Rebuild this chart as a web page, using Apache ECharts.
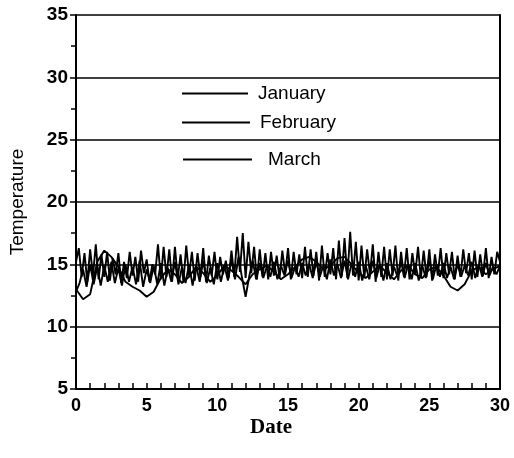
<!DOCTYPE html>
<html><head><meta charset="utf-8">
<script src="https://cdn.jsdelivr.net/npm/echarts@6/dist/echarts.min.js"></script>
<style>html,body{margin:0;padding:0;background:#fff}#c{width:514px;height:458px}</style>
</head><body><div id="c"></div>
<script>
const xTicks = [0,5,10,15,20,25,30];
const yTicks = [5,10,15,20,25,30,35];
const seriesNames = ['January','February','March'];
// January: sampled every 0.2 day
const janStep = 0.2;
const janValues = [
15.2,16.3,14.0,15.9,13.6, 16.2,14.1,16.6,13.8,15.8, 14.0,16.0,13.7,15.5,14.2,
15.9,13.5,15.2,13.9,16.0, 14.1,15.6,13.6,16.1,14.3, 15.4,13.6,15.0,14.2,16.6,
13.8,16.4,14.0,16.2,13.6, 16.4,13.9,15.8,13.6,16.5, 14.1,16.0,13.7,15.9,14.0,
16.3,13.6,15.7,14.1,16.0, 13.8,15.6,14.2,15.3,13.9, 16.1,14.0,17.2,14.4,17.5,
13.9,16.8,14.3,16.4,13.8, 16.2,14.0,15.9,13.8,16.0, 14.1,15.7,13.9,16.1,14.2,
16.3,13.8,16.0,14.2,15.8, 13.9,16.4,14.0,16.2,14.1, 16.0,13.7,16.5,14.0,15.9,
14.2,16.3,13.8,16.9,14.0, 17.1,13.9,17.6,14.1,16.8, 13.7,16.5,13.9,16.2,14.2,
16.6,13.6,16.0,14.0,16.4, 13.8,16.2,14.1,16.5,13.7, 16.0,14.0,16.3,13.8,15.9,
14.2,16.4,13.9,16.1,14.0, 16.2,13.7,15.8,14.1,16.3, 13.9,15.9,14.2,16.0,13.8,
15.7,14.0,16.2,14.3,15.9, 13.8,16.1,14.0,15.8,14.1, 16.3,13.9,15.6,14.2,16.0,
15.2];
// February: sampled every 0.5 day
const febStep = 0.5;
const febValues = [
13.0,12.2,12.6,15.2,16.1,15.6,14.8,13.6,13.2,12.9,12.4,12.8,13.9,14.6,14.2,13.5,
14.0,14.8,14.3,13.6,14.1,14.9,14.5,14.0,13.4,14.2,14.6,14.9,14.4,13.8,14.2,14.8,
15.4,15.6,15.2,14.6,14.9,15.5,15.6,15.0,14.3,13.9,14.4,14.9,14.3,13.8,14.5,14.9,
14.2,13.9,14.6,14.8,14.1,13.2,12.9,13.4,14.5,14.8,14.2,14.6,14.9];
// March: sampled every 0.25 day
const marStep = 0.25;
const marValues = [
12.8,13.5,14.6,13.2, 15.0,13.4,14.8,13.3, 14.9,13.6,15.2,13.5, 14.7,13.3,15.0,13.6,
14.8,13.4,15.3,13.2, 14.6,13.5,14.9,13.4, 15.1,13.3,14.7,13.6, 15.2,13.4,14.8,13.5,
15.0,13.3,14.9,13.6, 15.3,13.5,14.7,13.4, 15.1,13.6,14.9,13.7, 15.4,13.8,15.6,13.9,
12.4,14.0,15.3,13.8, 15.1,13.9,14.8,14.0, 15.2,13.8,14.9,14.1, 15.3,13.9,14.8,14.0,
15.1,14.1,15.0,13.9, 15.2,14.0,14.9,13.8, 15.4,14.1,15.0,13.9, 15.3,13.8,15.1,14.0,
15.2,13.7,14.9,13.8, 15.3,13.9,15.0,13.7, 15.1,13.8,14.8,14.0, 15.2,13.9,15.0,13.8,
15.1,13.7,14.9,13.9, 15.3,13.8,15.0,14.0, 15.1,13.9,14.8,13.8, 15.0,14.0,14.9,14.1,
15.2,13.9,15.0,14.0, 15.1,14.1,14.8,14.2, 14.9];

function pairs(vals, step){ return vals.map((v,i)=>[+(i*step).toFixed(3), v]); }

const chart = echarts.init(document.getElementById('c'), null, {renderer:'canvas'});
const lineStyle = {color:'#000', width:1.9};
const font = 'Liberation Sans, Arial, sans-serif';
function legendAt(name, left, top, width, textPad){
  return {data:[name], left:left, top:top, itemWidth:width, itemHeight:2, itemGap:0, padding:0,
    icon:'rect', selectedMode:false, orient:'horizontal',
    textStyle:{fontFamily:font, fontSize:19, color:'#000', padding:[0,0,0,textPad]},
    itemStyle:{color:'#000'}};
}
chart.setOption({
  animation:false,
  backgroundColor:'#fff',
  grid:{left:75, right:14, top:15, bottom:69, containLabel:false},
  legend:[legendAt('January',182,84,66,5), legendAt('February',182,113,68,5), legendAt('March',183,150,69,11)],
  xAxis:{type:'value', min:0, max:30, interval:5,
    name:'Date', nameLocation:'middle', nameGap:28, nameMoveOverlap:false,
    nameTextStyle:{fontFamily:'Liberation Serif, Times New Roman, serif', fontWeight:'bold', fontSize:21, color:'#000', padding:[0,34,0,0]},
    axisLine:{show:true, lineStyle:{color:'#000', width:2}},
    axisTick:{show:true, inside:true, length:6, lineStyle:{color:'#000', width:1.5}},
    minorTick:{show:true, splitNumber:5, length:6, lineStyle:{color:'#000', width:1.5}},
    axisLabel:{fontFamily:font, fontSize:18, fontWeight:'bold', color:'#000', margin:8},
    splitLine:{show:false}},
  yAxis:[{type:'value', min:5, max:35, interval:5,
    name:'Temperature', nameLocation:'middle', nameGap:49, nameRotate:90, nameMoveOverlap:false,
    nameTextStyle:{fontFamily:font, fontSize:19, color:'#000'},
    axisLine:{show:true, onZero:false, lineStyle:{color:'#000', width:2}},
    axisTick:{show:true, inside:false, length:6, lineStyle:{color:'#000', width:1.5}},
    minorTick:{show:true, splitNumber:2, length:5, lineStyle:{color:'#000', width:1.5}},
    axisLabel:{fontFamily:font, fontSize:19, fontWeight:'bold', color:'#000', margin:8},
    splitLine:{show:true, lineStyle:{color:'#000', width:1.5}}},
   {type:'value', min:5, max:35, interval:5, position:'right',
    axisLine:{show:true, onZero:false, lineStyle:{color:'#000', width:2}},
    axisTick:{show:false}, axisLabel:{show:false}, splitLine:{show:false}}],
  series:[
    {name:seriesNames[0], type:'line', data:pairs(janValues, janStep), symbol:'none', lineStyle:lineStyle, itemStyle:{color:'#000'}},
    {name:seriesNames[1], type:'line', data:pairs(febValues, febStep), symbol:'none', lineStyle:lineStyle, itemStyle:{color:'#000'}},
    {name:seriesNames[2], type:'line', data:pairs(marValues, marStep), symbol:'none', lineStyle:lineStyle, itemStyle:{color:'#000'}}
  ]
});
</script></body></html>
